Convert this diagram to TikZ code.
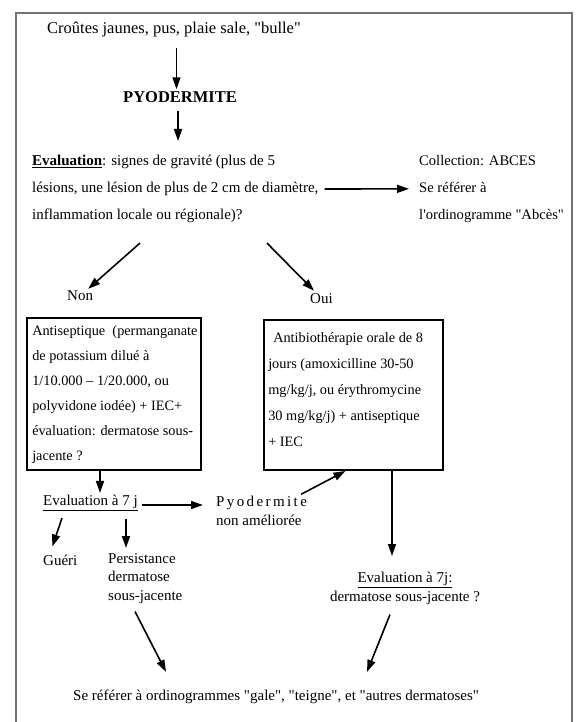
\documentclass[tikz,border=0pt]{standalone}
\usepackage{fontspec}
\setmainfont{Liberation Serif}[Ligatures=TeXOff]
\usetikzlibrary{arrows.meta,calc}
\newcommand{\fsbig}{\fontsize{16.5}{20}\selectfont}
\newcommand{\fsn}{\fontsize{15}{18.5}\selectfont}
\newcommand{\fsw}{\fontsize{15}{27}\selectfont}
\newcommand{\fsb}{\fontsize{14.3}{26.2}\selectfont}
\newcommand{\fsbl}{\fontsize{14.3}{25}\selectfont}
\newcommand{\spc}{\kern2.4pt}
\begin{document}
\begin{tikzpicture}[x=1pt,y=-1pt,
  t/.style={inner sep=0pt, anchor=west, font=\fsn},
  tw/.style={inner sep=0pt, anchor=north west, align=left, font=\fsw},
  arr/.style={-{Triangle[length=12pt,width=8pt]}, line width=1.6pt},
  box/.style={draw, line width=1.9pt, inner sep=0pt},
  boxtext/.style={inner sep=0pt, anchor=north west, align=left, font=\fsb}]
\useasboundingbox (0,0) rectangle (577,722);
\fill[white] (0,0) rectangle (577,722);
\draw[line width=1.5pt, black!55] (16,722) -- (16,13) -- (572,13) -- (572,722);

\node[t, font=\fsbig] (title) at (47,30) {Croûtes jaunes, pus, plaie sale, "bulle"};
\node[t, font=\fsbig\bfseries] (pyo) at (123,97) {PYODERMITE};
\node[tw] (eval) at (32,155) {\underline{\textbf{Evaluation}}: signes de gravité (plus de 5\\lésions, une lésion de plus de 2 cm de diamètre,\\inflammation locale ou régionale)?};
\node[tw, font=\fontsize{14.6}{27}\selectfont] (abces) at (419,155) {Collection: ABCES\\Se référer à\\l'ordinogramme "Abcès"};
\node[t] (non) at (67,296) {Non};
\node[t] (oui) at (310,299) {Oui};
\node[box, minimum width=174pt, minimum height=152pt] (lbox) at (114,394) {};
\node[boxtext, font=\fsbl] (ltext) at ($(lbox.north west)+(6,8)$) {Antiseptique\ \ (permanganate\\de potassium dilué à\\1/10.000 – 1/20.000, ou\\polyvidone iodée) + IEC+\\évaluation: dermatose sous-\\jacente ?};
\node[box, minimum width=179pt, minimum height=150pt] (rbox) at (353.5,395) {};
\node[boxtext] (rtext) at ($(rbox.north west)+(5,13)$) {\hspace*{5pt}Antibiothérapie orale de 8\\jours (amoxicilline 30-50\\mg/kg/j, ou érythromycine\\30 mg/kg/j) + antiseptique\\+ IEC};
\node[t] (ev7) at (43,503) {\underline{Evaluation à 7 j}};
\node[t, align=left] (pyd) at (216,511) {P\spc y\spc o\spc d\spc e\spc r\spc m\spc i\spc t\spc e\\non améliorée};
\node[t] (gueri) at (43,560) {Guéri};
\node[tw, font=\fsn] (pers) at (108,553) {Persistance\\dermatose\\sous-jacente};
\node[inner sep=0pt, anchor=north, align=center, font=\fsn] (ev7r) at (405,572) {\underline{Evaluation à 7j:}\\dermatose sous-jacente ?};
\node[t] (final) at (73,697) {Se référer à ordinogrammes "gale", "teigne", et "autres dermatoses"};

\coordinate (a1) at ($(title.south)+(2.5,10)$);
\draw[arr, shorten >=2pt] (a1) -- (a1 |- pyo.north);
\coordinate (a2) at ($(pyo.south)+(-2,8)$);
\draw[arr, shorten >=14pt] (a2) -- (a2 |- eval.north);
\draw[arr] ($(eval.east)+(6,0)$) -- ($(abces.west)+(-10,0)$);
\draw[arr] ($(eval.south west)+(108,20)$) -- ($(non.north east)+(-5,-2)$);
\draw[arr] ($(eval.south west)+(235,20)$) -- ($(oui.north west)+(4,-3)$);
\coordinate (la) at ($(lbox.south)+(-14,0)$);
\draw[arr, shorten >=2pt] (la) -- (la |- ev7.north);
\draw[arr] ($(ev7.east)+(4,2)$) -- ($(pyd.west)+(-13,-6)$);
\draw[arr] ($(pyd.north east)+(-6,-2)$) -- ($(rbox.south)+(-8,0)$);
\coordinate (rb) at ($(rbox.south)+(38.5,0)$);
\draw[arr, shorten >=16pt] (rb) -- (rb |- ev7r.north);
\draw[arr] ($(ev7.south west)+(19,7)$) -- ($(gueri.north)+(-8,-8)$);
\coordinate (pa) at ($(ev7.south west)+(83,8)$);
\draw[arr, shorten >=5pt] (pa) -- (pa |- pers.north);
\draw[arr] ($(pers.south west)+(27,8)$) -- ($(final.north west)+(93,-18)$);
\draw[arr] ($(ev7r.south)+(-15,10)$) -- ($(final.north west)+(294,-18)$);
\end{tikzpicture}
\end{document}
